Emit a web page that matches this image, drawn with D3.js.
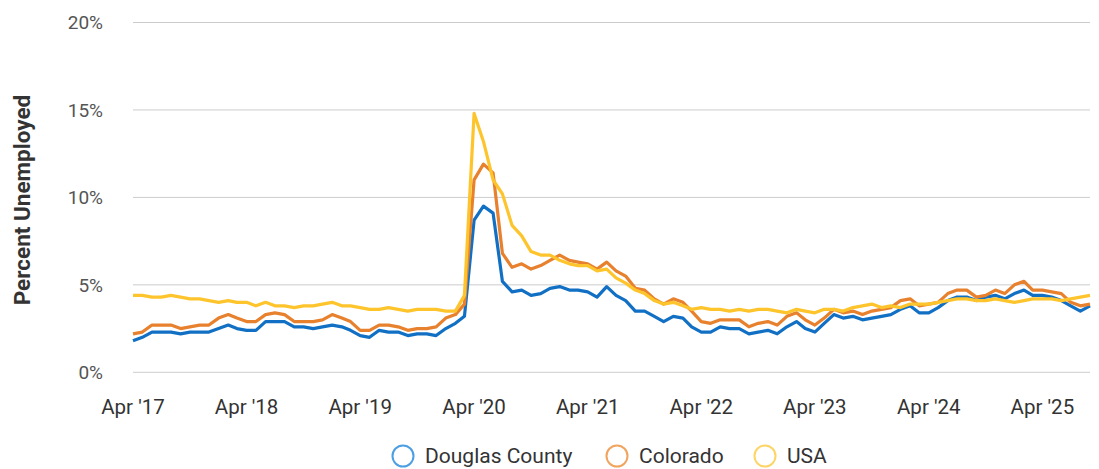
<!DOCTYPE html>
<html>
<head>
<meta charset="utf-8">
<script src="https://cdn.jsdelivr.net/npm/d3@7"></script>
<style>
  body { margin: 0; background: #fff; font-family: Roboto, "Noto Sans", sans-serif; }
  svg { display: block; }
</style>
</head>
<body>
<svg width="1099" height="469"></svg>
<script>
// monthly, Apr 2017 .. Sep 2025
const startMonth = new Date(2017, 3, 1);

const douglas = [
  1.8, 2.0, 2.3, 2.3, 2.3, 2.2, 2.3, 2.3, 2.3, 2.5, 2.7, 2.5,
  2.4, 2.4, 2.9, 2.9, 2.9, 2.6, 2.6, 2.5, 2.6, 2.7, 2.6, 2.4,
  2.1, 2.0, 2.4, 2.3, 2.3, 2.1, 2.2, 2.2, 2.1, 2.5, 2.8, 3.2,
  8.7, 9.5, 9.1, 5.2, 4.6, 4.7, 4.4, 4.5, 4.8, 4.9, 4.7, 4.7,
  4.6, 4.3, 4.9, 4.4, 4.1, 3.5, 3.5, 3.2, 2.9, 3.2, 3.1, 2.6,
  2.3, 2.3, 2.6, 2.5, 2.5, 2.2, 2.3, 2.4, 2.2, 2.6, 2.9, 2.5,
  2.3, 2.8, 3.3, 3.1, 3.2, 3.0, 3.1, 3.2, 3.3, 3.6, 3.8, 3.4,
  3.4, 3.7, 4.1, 4.3, 4.3, 4.1, 4.3, 4.4, 4.2, 4.5, 4.7, 4.4,
  4.4, 4.3, 4.1, 3.8, 3.5, 3.8
];

const colorado = [
  2.2, 2.3, 2.7, 2.7, 2.7, 2.5, 2.6, 2.7, 2.7, 3.1, 3.3, 3.1,
  2.9, 2.9, 3.3, 3.4, 3.3, 2.9, 2.9, 2.9, 3.0, 3.3, 3.1, 2.9,
  2.4, 2.4, 2.7, 2.7, 2.6, 2.4, 2.5, 2.5, 2.6, 3.1, 3.3, 3.9,
  11.0, 11.9, 11.4, 6.8, 6.0, 6.2, 5.9, 6.1, 6.4, 6.7, 6.4, 6.3,
  6.2, 5.9, 6.3, 5.8, 5.5, 4.8, 4.7, 4.2, 3.9, 4.2, 4.0, 3.5,
  2.9, 2.8, 3.0, 3.0, 3.0, 2.6, 2.8, 2.9, 2.7, 3.2, 3.4, 3.0,
  2.7, 3.1, 3.6, 3.4, 3.5, 3.3, 3.5, 3.6, 3.7, 4.1, 4.2, 3.8,
  3.9, 4.0, 4.5, 4.7, 4.7, 4.3, 4.4, 4.7, 4.5, 5.0, 5.2, 4.7,
  4.7, 4.6, 4.5, 4.0, 3.8, 3.9
];

const usa = [
  4.4, 4.4, 4.3, 4.3, 4.4, 4.3, 4.2, 4.2, 4.1, 4.0, 4.1, 4.0,
  4.0, 3.8, 4.0, 3.8, 3.8, 3.7, 3.8, 3.8, 3.9, 4.0, 3.8, 3.8,
  3.7, 3.6, 3.6, 3.7, 3.6, 3.5, 3.6, 3.6, 3.6, 3.5, 3.5, 4.4,
  14.8, 13.2, 11.0, 10.2, 8.4, 7.8, 6.9, 6.7, 6.7, 6.4, 6.2, 6.1,
  6.1, 5.8, 5.9, 5.4, 5.1, 4.7, 4.5, 4.1, 3.9, 4.0, 3.8, 3.6,
  3.7, 3.6, 3.6, 3.5, 3.6, 3.5, 3.6, 3.6, 3.5, 3.4, 3.6, 3.5,
  3.4, 3.6, 3.6, 3.5, 3.7, 3.8, 3.9, 3.7, 3.8, 3.7, 3.9, 3.9,
  3.9, 4.0, 4.1, 4.2, 4.2, 4.1, 4.1, 4.2, 4.1, 4.0, 4.1, 4.2,
  4.2, 4.2, 4.1, 4.2, 4.3, 4.4
];

const seriesNames = ["Douglas County", "Colorado", "USA"];
const yTicks = [0, 5, 10, 15, 20];
const tickYears = [2017, 2018, 2019, 2020, 2021, 2022, 2023, 2024, 2025];

const lineColors = ["#1170c4", "#e8812d", "#fdc42c"];
const legendColors = ["#4c9fe2", "#f0a45e", "#fdd566"];

const svg = d3.select("svg");
const plotLeft = 133, plotRight = 1090, plotTop = 22.5, plotBottom = 372.3;

const months = douglas.map((d, i) => d3.timeMonth.offset(startMonth, i));

const x = d3.scaleTime()
  .domain([months[0], months[months.length - 1]])
  .range([plotLeft, plotRight]);

const y = d3.scaleLinear()
  .domain([0, 20])
  .range([plotBottom, plotTop]);

// grid
svg.append("g")
  .selectAll("line")
  .data(yTicks)
  .join("line")
  .attr("x1", plotLeft)
  .attr("x2", plotRight)
  .attr("y1", d => y(d))
  .attr("y2", d => y(d))
  .attr("stroke", "#cccccc")
  .attr("stroke-width", 1);

// y labels
svg.append("g")
  .selectAll("text")
  .data(yTicks)
  .join("text")
  .attr("x", 103)
  .attr("y", d => y(d))
  .attr("dy", "0.35em")
  .attr("text-anchor", "end")
  .attr("font-size", 19)
  .attr("fill", "#555")
  .text(d => d + "%");

// x labels
svg.append("g")
  .selectAll("text")
  .data(tickYears)
  .join("text")
  .attr("x", d => x(new Date(d, 3, 1)))
  .attr("y", 414)
  .attr("text-anchor", "middle")
  .attr("font-size", 20.5)
  .attr("fill", "#333")
  .text(d => "Apr '" + String(d).slice(2));

svg.append("text")
  .attr("transform", "translate(30,200) rotate(-90)")
  .attr("text-anchor", "middle")
  .attr("font-size", 22.5)
  .attr("font-weight", "bold")
  .attr("fill", "#333")
  .text("Percent Unemployed");

const line = d3.line()
  .x((d, i) => x(months[i]))
  .y(d => y(d));

[douglas, colorado, usa].forEach((s, k) => {
  svg.append("path")
    .datum(s)
    .attr("fill", "none")
    .attr("stroke", lineColors[k])
    .attr("stroke-width", 3.2)
    .attr("stroke-linejoin", "round")
    .attr("d", line);
});

// legend
const legendX = [403, 617, 765];
const legend = svg.append("g")
  .selectAll("g")
  .data(seriesNames)
  .join("g")
  .attr("transform", (d, i) => `translate(${legendX[i]},456)`);

legend.append("circle")
  .attr("r", 10.5)
  .attr("fill", "none")
  .attr("stroke", (d, i) => legendColors[i])
  .attr("stroke-width", 2);

legend.append("text")
  .attr("x", 22)
  .attr("dy", "0.35em")
  .attr("font-size", 21)
  .attr("fill", "#333")
  .text(d => d);
</script>
</body>
</html>
